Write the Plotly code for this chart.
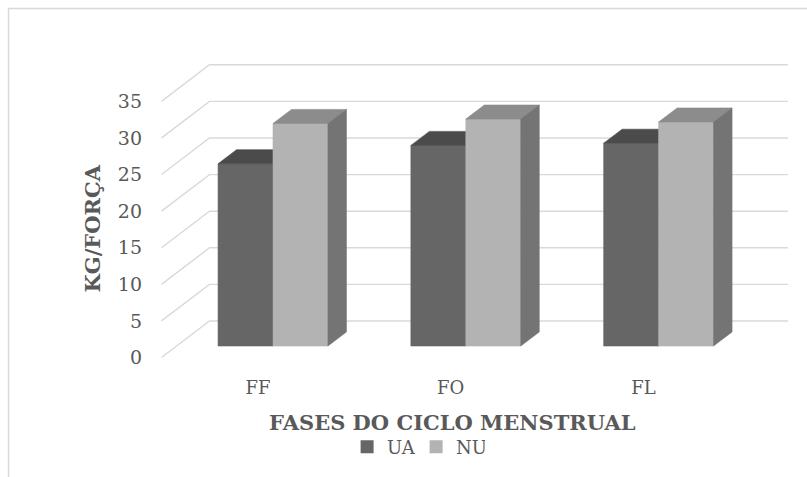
import plotly.graph_objects as go

# ---- data -------------------------------------------------------------
CATEGORIES = ["FF", "FO", "FL"]
UA_VALUES = [24.9, 27.4, 27.7]
NU_VALUES = [30.4, 31.0, 30.6]
SERIES_NAMES = ["UA", "NU"]
Y_TICKS = [0, 5, 10, 15, 20, 25, 30, 35]
X_TITLE = "FASES DO CICLO MENSTRUAL"
Y_TITLE = "KG/FORÇA"

# ---- oblique 3-D projection ------------------------------------------
BAR_W = 0.285            # width of one column, in category units
DEPTH_DX = 0.249         # x shift for full depth (category units)
DEPTH_DY = 4.99          # y shift for full depth (value units)
FRONT_D = 0.315          # depth of column fronts (0 = front edge, 1 = back wall)
BACK_D = 0.70            # depth of column backs
WALL_X = (-0.5, len(CATEGORIES) - 0.5)

X_RANGE = [-0.6587, 2.7333]
Y_RANGE = [-3.96, 40.44]

FONT = "DejaVu Serif"
TEXT_COLOR = "#595959"
GRID_COLOR = "#d9d9d9"

STYLE = {
    "UA": {"front": "#666666", "top": "#4b4b4b", "side": "#525252"},
    "NU": {"front": "#b3b3b3", "top": "#8c8c8c", "side": "#747474"},
}


def proj(x, v, d):
    """Project a point (x, value, depth) onto the 2-D front plane."""
    return x + (d - FRONT_D) * DEPTH_DX, v + (d - FRONT_D) * DEPTH_DY


def poly(points):
    xs, ys = [], []
    for p in points:
        px, py = proj(*p)
        xs.append(px)
        ys.append(py)
    xs.append(xs[0])
    ys.append(ys[0])
    return xs, ys


def faces(values, offset):
    out = {"front": ([], []), "top": ([], []), "side": ([], [])}
    for i, h in enumerate(values):
        x0 = i + offset
        x1 = x0 + BAR_W
        shapes = {
            "front": [(x0, 0, FRONT_D), (x1, 0, FRONT_D), (x1, h, FRONT_D), (x0, h, FRONT_D)],
            "top": [(x0, h, FRONT_D), (x1, h, FRONT_D), (x1, h, BACK_D), (x0, h, BACK_D)],
            "side": [(x1, 0, FRONT_D), (x1, h, FRONT_D), (x1, h, BACK_D), (x1, 0, BACK_D)],
        }
        for k, pts in shapes.items():
            xs, ys = poly(pts)
            out[k][0].extend(xs + [None])
            out[k][1].extend(ys + [None])
    return out


fig = go.Figure()

# walls: side-wall diagonals + back-wall gridlines
gx, gy = [], []
for v in Y_TICKS:
    for p in (proj(WALL_X[0], v, 0), proj(WALL_X[0], v, 1), proj(WALL_X[1], v, 1)):
        gx.append(p[0])
        gy.append(p[1])
    gx.append(None)
    gy.append(None)
fig.add_trace(go.Scatter(x=gx, y=gy, mode="lines",
                         line=dict(color=GRID_COLOR, width=1.4),
                         hoverinfo="skip", showlegend=False))

# columns (UA on the left of each group, NU on the right)
for name, values, offset in (("UA", UA_VALUES, -BAR_W), ("NU", NU_VALUES, 0.0)):
    f = faces(values, offset)
    for k in ("front", "top", "side"):
        c = STYLE[name][k]
        fig.add_trace(go.Scatter(x=f[k][0], y=f[k][1], mode="lines", fill="toself",
                                 fillcolor=c, line=dict(color=c, width=0.6),
                                 hoverinfo="skip", showlegend=False))

# legend entries
for name in SERIES_NAMES:
    fig.add_trace(go.Scatter(x=[None], y=[None], mode="markers", name=name,
                             marker=dict(symbol="square", size=13,
                                         color=STYLE[name]["front"])))

# axis carrier on the front-edge plane (tick labels)
fig.add_trace(go.Scatter(x=list(range(len(CATEGORIES))), y=[0] * len(CATEGORIES),
                         xaxis="x2", yaxis="y2", mode="markers",
                         marker=dict(opacity=0), hoverinfo="skip", showlegend=False))

front_shift_x = FRONT_D * DEPTH_DX
front_shift_y = FRONT_D * DEPTH_DY

fig.update_layout(
    width=807, height=477,
    margin=dict(l=146, r=7, t=50, b=102),
    paper_bgcolor="white", plot_bgcolor="rgba(0,0,0,0)",
    font=dict(family=FONT, color=TEXT_COLOR, size=18),
    xaxis=dict(range=X_RANGE, visible=False, fixedrange=True),
    yaxis=dict(range=Y_RANGE, visible=False, fixedrange=True),
    xaxis2=dict(range=[X_RANGE[0] + front_shift_x, X_RANGE[1] + front_shift_x],
                overlaying="x", anchor="y2", side="bottom",
                tickvals=list(range(len(CATEGORIES))), ticktext=CATEGORIES,
                showgrid=False, zeroline=False, showline=False, ticks="",
                tickfont=dict(family=FONT, size=18, color=TEXT_COLOR)),
    yaxis2=dict(range=[Y_RANGE[0] + front_shift_y, Y_RANGE[1] + front_shift_y],
                overlaying="y", anchor="x2", side="left",
                tickvals=Y_TICKS, showgrid=False, zeroline=False, showline=False,
                ticks="", ticklabelstandoff=3,
                tickfont=dict(family=FONT, size=19, color=TEXT_COLOR)),
    legend=dict(orientation="h", x=0.413, xanchor="center", y=-0.222,
                yanchor="middle", entrywidth=24,
                font=dict(family=FONT, size=18, color=TEXT_COLOR),
                bgcolor="rgba(0,0,0,0)", itemclick=False),
    annotations=[
        dict(text="<b>" + X_TITLE + "</b>", xref="paper", yref="paper",
             x=0.4694, y=-0.147, xanchor="center", yanchor="middle", showarrow=False,
             font=dict(family=FONT, size=21, color=TEXT_COLOR)),
        dict(text="<b>" + Y_TITLE + "</b>", xref="paper", yref="paper",
             x=-0.0818, y=0.4492, xanchor="center", yanchor="middle", showarrow=False,
             textangle=-90, font=dict(family=FONT, size=21, color=TEXT_COLOR)),
    ],
    shapes=[dict(type="rect", xref="paper", yref="paper",
                 x0=-0.2102, x1=1.3, y0=-0.5, y1=1.1277,
                 line=dict(color=GRID_COLOR, width=1.5), layer="below")],
)

fig.write_html("out.html")
